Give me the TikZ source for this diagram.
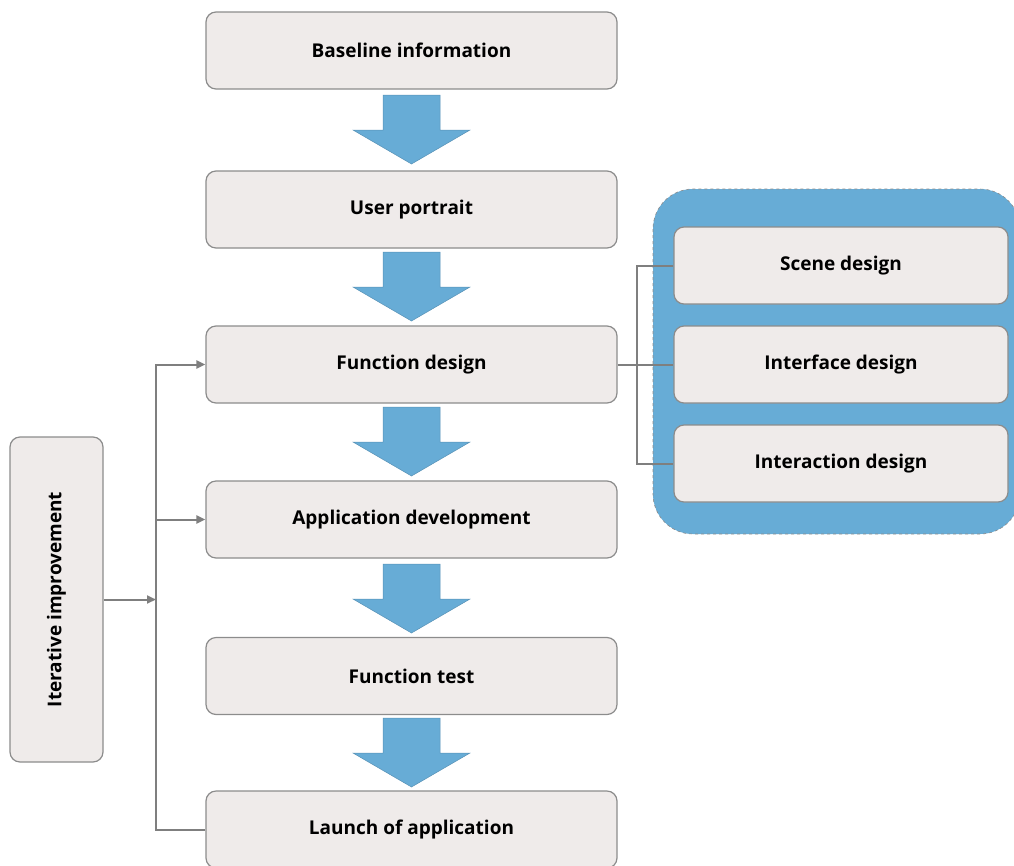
\documentclass[tikz,border=0pt]{standalone}
\usepackage{fontspec}
\setmainfont{Open Sans}
\usetikzlibrary{arrows.meta,calc}
\definecolor{boxfill}{HTML}{EFEBEA}
\definecolor{boxline}{HTML}{8C8C8C}
\definecolor{blueA}{HTML}{67ACD6}
\definecolor{conn}{HTML}{7F7F7F}
\tikzset{
  box/.style={draw=boxline, fill=boxfill, line width=1.2pt, rounded corners=10pt,
    minimum width=411pt, minimum height=77pt, font=\fontsize{19}{22}\selectfont\bfseries, inner sep=0pt},
  subbox/.style={box, minimum width=334pt, minimum height=77pt},
  blockarrow/.style={fill=blueA, draw=blueA!85!black, line width=0.5pt},
  connector/.style={draw=conn, line width=2pt},
  arrowtip/.style={-{Triangle[length=9pt,width=8pt]}}
}
\newcommand{\blockarr}[2]{%
  \draw[blockarrow] (411.5-28.5,#1) -- (411.5+28.5,#1) -- (411.5+28.5,#1+35) -- (411.5+58.5,#1+35)
    -- (411.5,#2) -- (411.5-58.5,#1+35) -- (411.5-28.5,#1+35) -- cycle;}
\begin{document}
\begin{tikzpicture}[x=1pt,y=-1pt]
\useasboundingbox (0,0) rectangle (1014,865);
% group background
\path[fill=blueA, draw=boxline, dashed, line width=0.6pt, rounded corners=40pt]
  (653,189) rectangle (1020,534);
% main chain
\node[box] (b1) at (411.5,50.5) {Baseline information};
\node[box] (b2) at (411.5,209.5) {User portrait};
\node[box] (b3) at (411.5,364.5) {Function design};
\node[box] (b4) at (411.5,519.5) {Application development};
\node[box] (b5) at (411.5,676) {Function test};
\node[box] (b6) at (411.5,829.5) {Launch of application};
% block arrows
\blockarr{95}{164}
\blockarr{252}{321}
\blockarr{407}{476}
\blockarr{564}{633}
\blockarr{718}{787}
% sub boxes
\node[subbox] (s1) at (841,265.5) {Scene design};
\node[subbox] (s2) at (841,364.5) {Interface design};
\node[subbox] (s3) at (841,463.5) {Interaction design};
% left box
\node[box, minimum width=325pt, minimum height=93pt, rotate=90] (it) at (56.5,599.5) {Iterative improvement};
% connectors left
\coordinate (bus) at (156,599.5);
\draw[connector, arrowtip] (it.south) -- (bus);
\draw[connector, arrowtip] (b6.west) -| (156,364.5) -- (b3.west);
\draw[connector, arrowtip] (156,519.5) -- (b4.west);
% connectors right
\coordinate (rb) at (637,364.5);
\draw[connector] (b3.east) -- (s2.west);
\draw[connector] (s1.west) -| (rb) |- (s3.west);
\end{tikzpicture}
\end{document}
